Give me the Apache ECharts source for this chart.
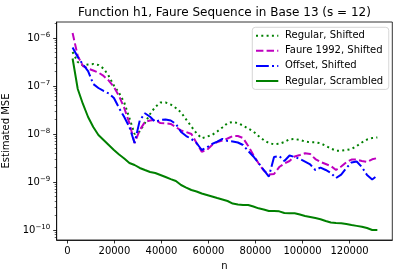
<!DOCTYPE html>
<html>
<head>
<meta charset="utf-8">
<script src="https://cdn.jsdelivr.net/npm/echarts@6/dist/echarts.min.js"></script>
<style>
html,body{margin:0;padding:0;background:#fff;}
#c{width:399px;height:278px;}
</style>
</head>
<body>
<div id="c"></div>
<script>
// sample sizes n (multiples of 13^3)
const nValues = [2197,4394,6591,8788,10985,13182,15379,17576,19773,21970,
  24167,26364,28561,30758,32955,35152,37349,39546,41743,43940,
  46137,48334,50531,52728,54925,57122,59319,61516,63713,65910,
  68107,70304,72501,74698,76895,79092,81289,83486,85683,87880,
  90077,92274,94471,96668,98865,101062,103259,105456,107653,109850,
  112047,114244,116441,118638,120835,123032,125229,127426,129623,131820];

const regularShifted = [5.11e-7,3.16e-7,2.67e-7,2.81e-7,2.87e-7,2.74e-7,2.31e-7,1.62e-7,1.02e-7,7.15e-8,
  4.53e-8,2.15e-8,1.0e-8,1.13e-8,1.69e-8,2.61e-8,3.65e-8,4.53e-8,4.53e-8,4.12e-8,
  3.48e-8,2.81e-8,2.00e-8,1.43e-8,1.03e-8,8.14e-9,8.79e-9,9.53e-9,1.13e-8,1.37e-8,
  1.69e-8,1.78e-8,1.69e-8,1.50e-8,1.30e-8,1.13e-8,9.08e-9,7.50e-9,6.49e-9,6.10e-9,
  6.25e-9,6.81e-9,7.76e-9,7.87e-9,7.50e-9,6.98e-9,6.71e-9,6.71e-9,6.40e-9,5.68e-9,
  4.99e-9,4.49e-9,4.49e-9,4.64e-9,4.87e-9,5.62e-9,6.65e-9,7.67e-9,8.25e-9,8.45e-9];

const faure1992Shifted = [1.27e-6,4.22e-7,2.61e-7,2.31e-7,2.10e-7,1.91e-7,1.62e-7,1.30e-7,9.53e-8,6.19e-8,
  3.48e-8,1.69e-8,6.49e-9,1.21e-8,1.78e-8,1.91e-8,1.96e-8,1.69e-8,1.67e-8,1.62e-8,
  1.40e-8,1.18e-8,1.10e-8,1.0e-8,6.49e-9,4.28e-9,4.64e-9,5.90e-9,6.81e-9,7.33e-9,
  8.05e-9,9.08e-9,9.08e-9,8.25e-9,5.62e-9,3.65e-9,2.45e-9,1.74e-9,1.43e-9,1.47e-9,
  2.05e-9,2.43e-9,2.74e-9,3.40e-9,3.65e-9,3.96e-9,3.83e-9,3.01e-9,2.61e-9,2.37e-9,
  2.15e-9,1.78e-9,2.10e-9,2.57e-9,2.94e-9,2.94e-9,2.74e-9,2.61e-9,2.97e-9,3.16e-9];

const offsetShifted = [6.34e-7,4.02e-7,2.81e-7,2.05e-7,1.10e-7,9.08e-8,7.87e-8,6.98e-8,5.62e-8,3.48e-8,
  2.26e-8,1.40e-8,6.49e-9,1.91e-8,2.70e-8,2.29e-8,1.80e-8,1.96e-8,2.00e-8,1.91e-8,
  1.62e-8,1.10e-8,9.08e-9,7.87e-9,6.49e-9,4.64e-9,5.24e-9,6.19e-9,6.92e-9,7.87e-9,
  7.15e-9,6.98e-9,6.65e-9,5.90e-9,4.43e-9,3.40e-9,2.49e-9,1.78e-9,1.30e-9,3.32e-9,
  3.48e-9,2.74e-9,3.56e-9,3.32e-9,3.01e-9,2.65e-9,2.32e-9,1.78e-9,2.00e-9,1.78e-9,
  1.54e-9,1.21e-9,1.43e-9,1.96e-9,2.55e-9,2.67e-9,2.05e-9,1.40e-9,1.13e-9,1.36e-9];

const regularScrambled = [3.74e-7,8.66e-8,4.22e-8,2.26e-8,1.40e-8,9.53e-9,7.50e-9,5.90e-9,4.64e-9,3.74e-9,
  3.09e-9,2.49e-9,2.26e-9,1.96e-9,1.78e-9,1.62e-9,1.54e-9,1.40e-9,1.27e-9,1.15e-9,
  1.05e-9,8.66e-10,7.67e-10,6.81e-10,6.34e-10,5.75e-10,5.36e-10,4.99e-10,4.64e-10,4.32e-10,
  4.02e-10,3.56e-10,3.40e-10,3.32e-10,3.32e-10,3.09e-10,2.83e-10,2.67e-10,2.49e-10,2.49e-10,
  2.45e-10,2.26e-10,2.24e-10,2.24e-10,2.10e-10,1.96e-10,1.87e-10,1.78e-10,1.67e-10,1.54e-10,
  1.43e-10,1.40e-10,1.38e-10,1.33e-10,1.27e-10,1.22e-10,1.17e-10,1.10e-10,1.00e-10,1.00e-10];

const seriesNames = ['Regular, Shifted', 'Faure 1992, Shifted', 'Offset, Shifted', 'Regular, Scrambled'];
const xTicks = [0, 20000, 40000, 60000, 80000, 100000, 120000];
const yExpTicks = [-10, -9, -8, -7, -6];

const FONT = 'DejaVu Sans';
const LW = 2;
const yExpMin = -10.208, yExpMax = -5.667;

const minorTicks = [];
for (let k = -11; k <= -6; k++) {
  for (let m = 2; m <= 9; m++) {
    const v = k + Math.log10(m);
    if (v > yExpMin && v < yExpMax) minorTicks.push(v);
  }
}

function pairs(arr) { return nValues.map((n, i) => [n, arr[i]]); }

const chart = echarts.init(document.getElementById('c'), null, {renderer: 'canvas'});
const mkSeries = (name, arr, color, type) => ({
  name, type: 'line', data: pairs(arr), yAxisIndex: 0, xAxisIndex: 0,
  symbol: 'none', showSymbol: false, animation: false,
  lineStyle: {color, width: LW, type, cap: 'butt'},
  itemStyle: {color}
});

chart.setOption({
  animation: false,
  textStyle: {fontFamily: FONT},
  title: {
    text: 'Function h1, Faure Sequence in Base 13 (s = 12)',
    left: 224.5, top: 6.5, textAlign: 'center', padding: 0,
    textStyle: {fontFamily: FONT, fontSize: 12, fontWeight: 'normal', color: '#000'}
  },
  grid: {left: 56.7, right: 6.7, top: 22, bottom: 38, containLabel: false, outerBoundsMode: 'none',
    show: true, borderColor: '#000', borderWidth: 0.8, backgroundColor: 'transparent'},
  legend: {
    orient: 'vertical', left: 252.3, top: 27.3,
    padding: [3.4, 5.6, 3.4, 2.7],
    itemWidth: 22.3, itemHeight: 10, itemGap: 5.1,
    itemStyle: {opacity: 0},
    backgroundColor: 'rgba(255,255,255,0.8)', borderColor: '#cccccc', borderWidth: 0.8, borderRadius: 3,
    textStyle: {fontFamily: FONT, fontSize: 10, color: '#000', lineHeight: 10, padding: [0, 0, 0, 1.7]},
    data: seriesNames
  },
  xAxis: {
    type: 'value', min: -4560, max: 138180,
    name: 'n', nameLocation: 'middle', nameGap: 20,
    nameTextStyle: {fontFamily: FONT, fontSize: 10, color: '#000'},
    axisLine: {show: true, lineStyle: {color: '#000', width: 0.8}},
    axisTick: {show: true, length: 3.5, lineStyle: {color: '#000', width: 0.8}, customValues: xTicks},
    axisLabel: {show: true, margin: 6.5, fontFamily: FONT, fontSize: 10, color: '#000', customValues: xTicks,
      formatter: v => String(v)},
    splitLine: {show: false}
  },
  yAxis: [
    {
      type: 'log', logBase: 10, min: Math.pow(10, yExpMin), max: Math.pow(10, yExpMax),
      axisLine: {show: false}, axisTick: {show: false}, axisLabel: {show: false}, splitLine: {show: false}
    },
    {
      type: 'value', min: yExpMin, max: yExpMax, position: 'left',
      name: 'Estimated MSE', nameLocation: 'middle', nameGap: 37,
      nameTextStyle: {fontFamily: FONT, fontSize: 10, color: '#000'},
      axisLine: {show: true, lineStyle: {color: '#000', width: 0.8}},
      axisTick: {show: true, length: 3.5, lineStyle: {color: '#000', width: 0.8}, customValues: yExpTicks},
      axisLabel: {show: true, margin: 6.5, customValues: yExpTicks,
        formatter: v => '{b|10}{s|\u2212' + Math.abs(Math.round(v)) + '}',
        rich: {
          b: {fontFamily: FONT, fontSize: 10, color: '#000', lineHeight: 13},
          s: {fontFamily: FONT, fontSize: 7, color: '#000', verticalAlign: 'top', lineHeight: 8}
        }
      },
      splitLine: {show: false}
    },
    {
      type: 'value', min: yExpMin, max: yExpMax, position: 'left',
      axisLine: {show: false},
      axisTick: {show: true, length: 2, lineStyle: {color: '#000', width: 0.6}, customValues: minorTicks},
      axisLabel: {show: false},
      splitLine: {show: false}
    }
  ],
  series: [
    mkSeries(seriesNames[0], regularShifted, '#008000', [LW, 1.65 * LW]),
    mkSeries(seriesNames[1], faure1992Shifted, '#bf00bf', [3.7 * LW, 1.6 * LW]),
    mkSeries(seriesNames[2], offsetShifted, '#0000ff', [6.4 * LW, 1.6 * LW, 1 * LW, 1.6 * LW]),
    mkSeries(seriesNames[3], regularScrambled, '#008000', 'solid')
  ]
});
</script>
</body>
</html>
